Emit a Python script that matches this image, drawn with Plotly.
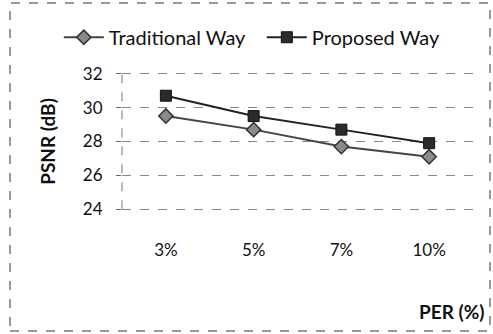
import plotly.graph_objects as go

categories = ["3%", "5%", "7%", "10%"]
traditional = [29.5, 28.7, 27.7, 27.1]
proposed = [30.7, 29.5, 28.7, 27.9]
y_ticks = [24, 26, 28, 30, 32]

fig = go.Figure()
fig.add_trace(go.Scatter(
    x=categories, y=traditional, name="Traditional Way", mode="lines+markers",
    line=dict(color="#444444", width=2),
    marker=dict(symbol="diamond", size=11, color="#8a8a8a", line=dict(color="#333333", width=1.5)),
))
fig.add_trace(go.Scatter(
    x=categories, y=proposed, name="Proposed Way", mode="lines+markers",
    line=dict(color="#222222", width=2),
    marker=dict(symbol="square", size=11, color="#2a2a2a", line=dict(color="#111111", width=1)),
))

top, bottom = 72, 123
fig.update_layout(
    width=493, height=334,
    margin=dict(l=122, r=20, t=top, b=bottom),
    paper_bgcolor="white", plot_bgcolor="white",
    font=dict(family="Lato, Open Sans, sans-serif", size=16, color="#111111"),
    legend=dict(orientation="h", x=-0.18, y=1.25, xanchor="left", yanchor="middle",
                font=dict(size=20), itemwidth=40, entrywidth=148, bgcolor="rgba(0,0,0,0)"),
    xaxis=dict(type="category", range=[-0.5, 3.5], showgrid=False, zeroline=False,
               showline=False, ticks="", tickfont=dict(size=17), ticklabelstandoff=27),
    yaxis=dict(range=[23.9, 32.1], tickvals=y_ticks, showgrid=True, gridcolor="#888888",
               griddash="dash", gridwidth=1, zeroline=False, showline=False,
               ticks="outside", ticklen=5, tickcolor="#666666", tickfont=dict(size=17),
               ticklabelstandoff=10,
               title=dict(text="<b>PSNR (dB)</b>", font=dict(size=19), standoff=22)),
    showlegend=True,
)

ph = 334 - top - bottom
# dashed y axis line
fig.add_shape(type="line", xref="paper", yref="y", x0=0, x1=0, y0=24, y1=32,
              line=dict(color="#777777", width=1, dash="dash"))
# outer frame
fig.add_shape(type="rect", xref="paper", yref="paper",
              x0=(10 - 122) / 351, x1=(490 - 122) / 351,
              y0=(334 - bottom - 331) / ph, y1=(334 - bottom - 3) / ph,
              line=dict(color="#333333", width=1, dash="dash"), layer="below")
fig.add_annotation(text="<b>PER (%)</b>", xref="paper", yref="paper",
                   x=(487 - 122) / 351, y=(334 - bottom - 311) / ph, xanchor="right", yanchor="middle",
                   showarrow=False, font=dict(size=19))

fig.write_html("out.html", config={"displayModeBar": False},
               post_script="document.body.style.margin='0';")
